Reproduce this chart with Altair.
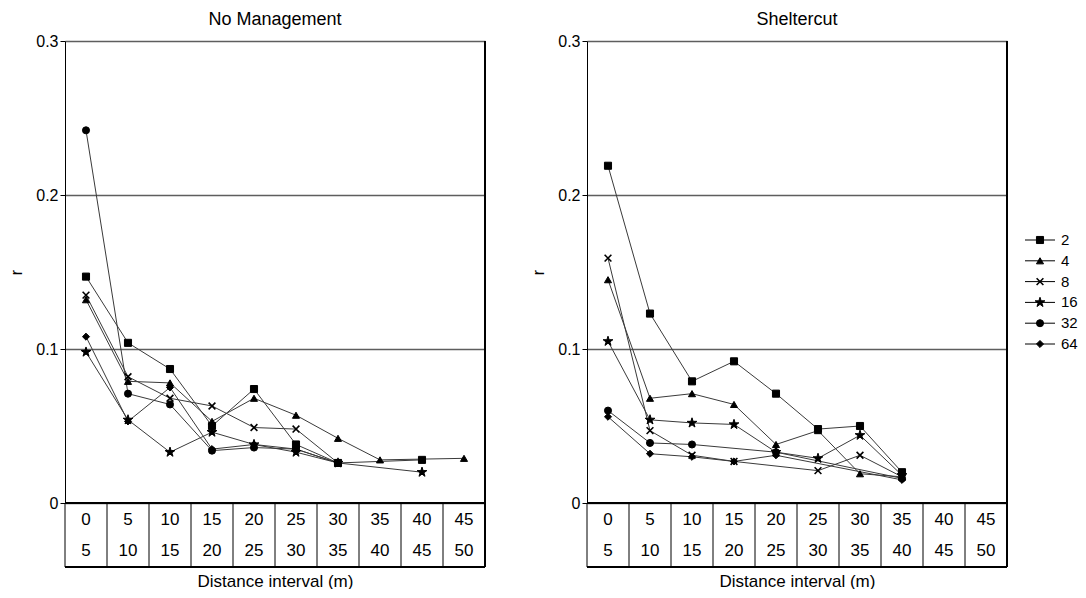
import altair as alt
import pandas as pd

# ---- data ----
interval_lo = ["0", "5", "10", "15", "20", "25", "30", "35", "40", "45"]
interval_hi = ["5", "10", "15", "20", "25", "30", "35", "40", "45", "50"]
series = ["2", "4", "8", "16", "32", "64"]

# No Management
nm_2 = [0.147, 0.104, 0.087, 0.050, 0.074, 0.038, 0.026, None, 0.028, None]
nm_4 = [0.132, 0.079, 0.078, 0.053, 0.068, 0.057, 0.042, 0.028, None, 0.029]
nm_8 = [0.135, 0.082, 0.068, 0.063, 0.049, 0.048, 0.026, None, None, None]
nm_16 = [0.098, 0.054, 0.033, 0.046, 0.038, 0.033, 0.026, None, 0.020, None]
nm_32 = [0.242, 0.071, 0.064, 0.034, 0.036, 0.035, 0.026, None, None, None]
nm_64 = [0.108, 0.053, 0.075, 0.035, 0.038, 0.035, 0.026, None, None, None]

# Sheltercut
sc_2 = [0.219, 0.123, 0.079, 0.092, 0.071, 0.048, 0.050, 0.020, None, None]
sc_4 = [0.145, 0.068, 0.071, 0.064, 0.038, 0.047, 0.019, 0.017, None, None]
sc_8 = [0.159, 0.047, 0.031, 0.027, None, 0.021, 0.031, 0.017, None, None]
sc_16 = [0.105, 0.054, 0.052, 0.051, 0.033, 0.029, 0.044, 0.018, None, None]
sc_32 = [0.060, 0.039, 0.038, None, 0.033, None, None, 0.016, None, None]
sc_64 = [0.056, 0.032, 0.030, 0.027, 0.031, None, None, 0.015, None, None]

STAR = ("M0,-1.45L0.32,-0.45L1.38,-0.45L0.53,0.17L0.85,1.17L0,0.55"
        "L-0.85,1.17L-0.53,0.17L-1.38,-0.45L-0.32,-0.45Z")
XSHAPE = "M-1,-1L1,1M-1,1L1,-1"
shapes = ["square", "triangle-up", XSHAPE, STAR, "circle", "diamond"]

FONT = "Liberation Sans"
W, H = 420, 462
TAB = 64


def long_df(lists):
    rows = []
    for s, vals in zip(series, lists):
        for i, v in enumerate(vals):
            if v is not None:
                rows.append({"series": s, "pos": i + 0.5, "r": v})
    return pd.DataFrame(rows)


tab_df = pd.DataFrame({"pos": [i + 0.5 for i in range(len(interval_lo))],
                       "lo": interval_lo, "hi": interval_hi})
bound_df = pd.DataFrame({"b": list(range(len(interval_lo) + 1))})

xscale = alt.Scale(domain=[0, 10], nice=False, zero=False)
yscale = alt.Scale(domain=[0, 0.3], nice=False)
shape_scale = alt.Scale(domain=series, range=shapes)


def marker_layers(base, x, y):
    solid = base.transform_filter(alt.datum.series != "8").mark_point(
        filled=True, fill="black", stroke="black", strokeWidth=1,
        opacity=1, size=50).encode(
        x=x, y=y, shape=alt.Shape("series:N", scale=shape_scale, legend=None))
    cross = base.transform_filter(alt.datum.series == "8").mark_point(
        filled=False, stroke="black", strokeWidth=1.6,
        opacity=1, size=46).encode(
        x=x, y=y, shape=alt.Shape("series:N", scale=shape_scale, legend=None))
    return [solid, cross]


def panel(title, lists):
    df = long_df(lists)
    base = alt.Chart(df)
    lines = base.mark_line(color="#3a3a3a", strokeWidth=1).encode(
        x=alt.X("pos:Q", scale=xscale,
                axis=alt.Axis(labels=False, ticks=False, domain=False, grid=False,
                              title="Distance interval (m)", titlePadding=TAB + 6,
                              titleFontSize=17, titleFontWeight="normal",
                              titleColor="black", titleFont=FONT)),
        y=alt.Y("r:Q", scale=yscale,
                axis=alt.Axis(values=[0, 0.1, 0.2, 0.3],
                              labelExpr="datum.value == 0 ? '0' : format(datum.value, '.1f')",
                              grid=True, gridColor="#5e5e5e", gridWidth=1.5,
                              domainColor="black", tickColor="black", tickSize=5,
                              labelFontSize=16, labelColor="black", labelFont=FONT,
                              title="r", titleFontSize=16, titleFontWeight="normal",
                              titleColor="black", titleFont=FONT, titlePadding=11)),
        detail="series:N",
        order="pos:Q",
    )
    pts = marker_layers(base, alt.X("pos:Q", scale=xscale), alt.Y("r:Q", scale=yscale))
    tab = alt.Chart(tab_df)
    t1 = tab.mark_text(fontSize=17, font=FONT, color="black").encode(
        x=alt.X("pos:Q", scale=xscale), y=alt.value(H + 17), text="lo:N")
    t2 = tab.mark_text(fontSize=17, font=FONT, color="black").encode(
        x=alt.X("pos:Q", scale=xscale), y=alt.value(H + 48), text="hi:N")
    vlines = alt.Chart(bound_df).mark_rule(color="black", strokeWidth=1).encode(
        x=alt.X("b:Q", scale=xscale), y=alt.value(H), y2=alt.value(H + TAB))
    edge = alt.Chart(tab_df).mark_rule(color="black", strokeWidth=1)
    right = edge.encode(x=alt.datum(10), y=alt.value(0), y2=alt.value(H + TAB))
    bottom = edge.encode(x=alt.datum(0), x2=alt.datum(10), y=alt.value(H + TAB))
    top_tab = edge.encode(x=alt.datum(0), x2=alt.datum(10), y=alt.datum(0))
    return alt.layer(lines, top_tab, vlines, right, bottom, t1, t2, *pts).properties(
        width=W, height=H,
        title=alt.TitleParams(title, fontSize=18, fontWeight="normal", font=FONT,
                              color="black", anchor="middle", offset=4),
    )


left = panel("No Management", [nm_2, nm_4, nm_8, nm_16, nm_32, nm_64])
right = panel("Sheltercut", [sc_2, sc_4, sc_8, sc_16, sc_32, sc_64])

leg_df = pd.DataFrame({"series": series})
leg_y = alt.Y("series:N", sort=series,
              scale=alt.Scale(type="point", domain=series, range=[199, 303], padding=0),
              axis=None)
leg_base = alt.Chart(leg_df)
leg_rule = leg_base.mark_rule(color="black", strokeWidth=1).encode(
    x=alt.value(0), x2=alt.value(30), y=leg_y)
leg_pts = marker_layers(leg_base, alt.value(15), leg_y)
leg_txt = leg_base.mark_text(align="left", baseline="middle", fontSize=15,
                             font=FONT, color="black").encode(
    x=alt.value(36), y=leg_y, text="series:N")
legend = alt.layer(leg_rule, *leg_pts, leg_txt).properties(width=30, height=H)

chart = alt.hconcat(
    alt.hconcat(left, right, spacing=44),
    legend, spacing=16,
).properties(
    padding={"left": 0, "top": 3, "right": 0, "bottom": 0}
).configure(font=FONT).configure_view(strokeWidth=0, stroke="transparent")

chart.save("out.html", embed_options={"renderer": "svg", "actions": False})
